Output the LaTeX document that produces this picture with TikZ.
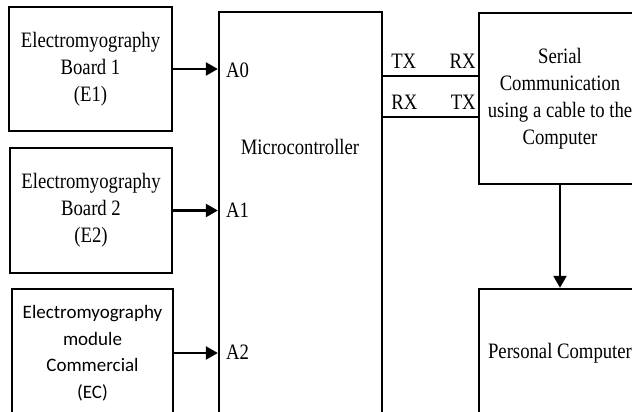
\documentclass[tikz,border=0pt]{standalone}
\usepackage{fontspec}
\setmainfont{Liberation Serif}[FakeStretch=0.85]
\newfontfamily\calfont{Carlito}
\usetikzlibrary{arrows.meta}
\tikzset{
  blk/.style={draw, line width=2.3pt, inner sep=0pt, align=center,
    font=\fontsize{22}{27}\selectfont},
  arr/.style={line width=2.3pt, -{Triangle[length=12pt,width=13pt]}},
  port/.style={inner sep=2pt, font=\fontsize{22}{27}\selectfont},
  wire/.style={line width=2.3pt}
}
\begin{document}
\begin{tikzpicture}[x=1pt,y=-1pt]
                \clip
                    (0,0) rectangle (632,412);
                % input boards
                \node[blk, minimum width=163pt, minimum height=124pt]
                    (e1) at (90.5,69) {Electromyography\\Board 1\\(E1)};
                \node[blk, minimum width=162pt, minimum height=125pt]
                    (e2) at (91,210.5) {Electromyography\\Board 2\\(E2)};
                \node[blk, minimum width=161pt, minimum height=128pt,
                      font=\calfont\fontsize{19}{26.5}\selectfont]
                    (ec) at (92.5,353) {Electromyography\\module\\Commercial\\(EC)};
                % microcontroller
                \node[blk, minimum width=163pt, minimum height=440pt]
                    (mcu) at (300.5,232) {};
                \node[port]
                    (mcutxt) at (300,147) {Microcontroller};
                \node[port, anchor=west]
                    (a0) at (224,70) {A0};
                \node[port, anchor=west]
                    (a1) at (224,210) {A1};
                \node[port, anchor=west]
                    (a2) at (224,352) {A2};
                % serial link and computer
                \node[blk, minimum width=162pt, minimum height=171pt]
                    (serial) at (560,98.5)
                    {Serial\\Communication\\using a cable to the\\Computer};
                \node[blk, minimum width=162pt, minimum height=128pt]
                    (pc) at (560,353) {Personal Computer};
                \draw[arr]
                    (e1.east) -- (e1.east -| mcu.west);
                \draw[arr]
                    (e2.east) -- (e2.east -| mcu.west);
                \draw[arr]
                    (ec.east) -- (ec.east -| mcu.west);
                \draw[wire]
                    (mcu.east |- 0,76) -- (serial.west |- 0,76)
                    node[port, pos=0, above right, xshift=5pt, yshift=4pt] (tx1) {TX}
                    node[port, pos=1, above left, xshift=1pt, yshift=4pt] (rx2) {RX};
                \draw[wire]
                    (mcu.east |- 0,117) -- (serial.west |- 0,117)
                    node[port, pos=0, above right, xshift=5pt, yshift=4pt] (rx1) {RX}
                    node[port, pos=1, above left, xshift=1pt, yshift=4pt] (tx2) {TX};
                \draw[arr]
                    (serial.south) -- (pc.north);
\end{tikzpicture}
\end{document}
